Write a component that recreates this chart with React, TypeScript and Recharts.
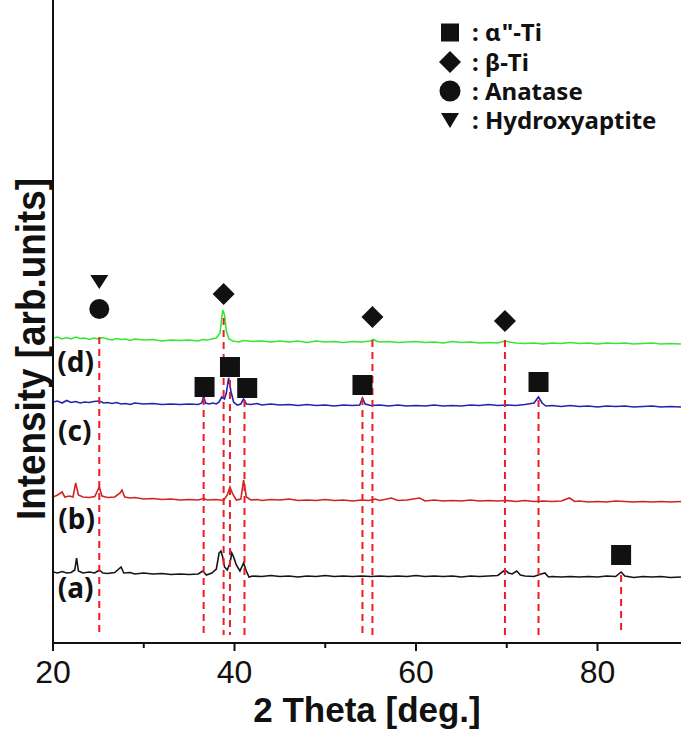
import {
  ComposedChart,
  Line,
  Scatter,
  XAxis,
  YAxis,
  ReferenceLine,
  ReferenceDot,
  Legend,
} from "recharts";

// 2θ (deg) vs intensity (arb. units, already stacked with offsets)
const traceA: [number, number][] = [
  [20, 71], [20.5, 70], [21, 71.5], [21.5, 70], [22, 70.5], [22.4, 73], [22.6, 85], [22.8, 72],
  [23.3, 70], [24, 71], [24.6, 70], [25.1, 73], [25.5, 70], [26, 69.5], [26.8, 70.5], [27.5, 76],
  [27.8, 70], [28.5, 70.5], [29, 69], [30, 70], [31, 69], [32, 69.5], [33, 68.5], [34, 69],
  [35, 68.5], [36, 69], [36.5, 72], [36.9, 68], [37.5, 70], [38.0, 74], [38.3, 90], [38.5, 92],
  [38.7, 86], [38.9, 76], [39.2, 73], [39.5, 80], [39.7, 90], [39.9, 86], [40.2, 78], [40.6, 72],
  [41.0, 80], [41.3, 72], [41.6, 66], [42, 67], [43, 66.5], [44, 67.5], [45, 66.5], [46, 67],
  [47, 66], [48, 67], [49, 66.5], [50, 67.5], [51, 66.5], [52, 67], [53, 66.5], [54, 67],
  [55, 66.5], [56, 67], [57, 66.5], [58, 67], [59, 66.5], [60, 67.5], [61, 66.5], [62, 67],
  [63, 66.5], [64, 67], [65, 66], [66, 67], [67, 66.5], [68, 67], [69, 67.5], [69.8, 73],
  [70.2, 70], [70.6, 69], [71.1, 72], [71.5, 68], [72, 67], [73, 66.5], [73.8, 69], [74.2, 70],
  [74.6, 66], [75, 66.5], [76, 66], [77, 66.5], [78, 66], [79, 66.5], [80, 66], [81, 67],
  [82, 66.5], [82.6, 71], [83, 67], [84, 65.5], [85, 66.5], [86, 66], [87, 66.5], [88, 65.5],
  [89.2, 66],
];

const traceB: [number, number][] = [
  [20, 146], [20.5, 148], [21, 151], [21.3, 146], [21.8, 147], [22.2, 146], [22.5, 160], [22.8, 148],
  [23.3, 146], [24, 145.5], [24.6, 146.5], [25.1, 156], [25.4, 147], [26, 145.5], [26.8, 146],
  [27.4, 150], [27.6, 153], [27.9, 146], [28.5, 145], [29, 145.5], [30, 144], [31, 144.5],
  [32, 143.5], [33, 144], [34, 143], [35, 143.5], [36, 143], [36.6, 144.5], [37, 143], [38, 143.5],
  [38.8, 142.5], [39.2, 148], [39.5, 156], [39.8, 149], [40.2, 143], [40.7, 144], [41.0, 163],
  [41.3, 146], [41.8, 143], [42.5, 143.5], [43, 142.5], [44, 143.5], [45, 143], [46, 144],
  [47, 142.5], [48, 143], [49, 142.5], [50, 143.5], [51, 142.5], [52, 143], [53, 142], [54, 143],
  [54.8, 142.5], [55.5, 144], [56, 142.5], [57.3, 145], [58, 142.5], [59, 143], [60.4, 145],
  [61, 142], [62, 143], [63, 142], [64, 142.5], [65, 142], [66, 143], [67, 142], [68, 142.5],
  [69, 142], [70, 142.5], [71, 141.5], [72, 142.5], [73, 141.5], [74, 142], [75, 141.5], [76, 142],
  [76.9, 145], [77.5, 141.5], [78, 142], [79, 141], [80, 141.5], [81, 141], [82, 142], [83, 141.5],
  [84, 141], [85, 141.5], [86, 141], [87, 141.5], [88, 141], [89.2, 141.5],
];

const traceC: [number, number][] = [
  [20, 241], [20.5, 242], [21, 240], [21.5, 242.5], [22, 240.5], [22.5, 241.5], [23, 240], [23.5, 241],
  [24, 240.5], [24.5, 241.5], [25.1, 242], [25.6, 240], [26, 240.5], [26.5, 239.5], [27, 240.5],
  [27.5, 239], [28, 239.5], [28.5, 238.5], [29, 240], [30, 239], [31, 239.5], [32, 238.5], [33, 239],
  [34, 238.5], [35, 239], [36, 238.5], [36.4, 240], [36.6, 247], [36.8, 240], [37.2, 239], [37.6, 240],
  [38.0, 239], [38.3, 241], [38.6, 246], [38.9, 244], [39.1, 250], [39.35, 265], [39.6, 252],
  [39.9, 241], [40.3, 238], [40.7, 239], [41.0, 244], [41.3, 239], [41.8, 238.5], [42.5, 239.5],
  [43, 238], [44, 239], [45, 238], [46, 238.5], [47, 237.5], [48, 238.5], [49, 237.5], [50, 238],
  [51, 237], [52, 238], [53, 237.5], [53.8, 238], [54.1, 245], [54.4, 239], [55, 237.5], [56, 238],
  [57, 237], [58, 238], [59, 237], [60, 237.5], [61, 237], [62, 238], [63, 237], [64, 237.5],
  [65, 237], [66, 238], [67, 237.5], [68, 238.5], [69, 237.5], [70, 238], [71, 237.5], [72, 238.5],
  [73, 240], [73.5, 246], [73.9, 240], [74.3, 237], [75, 237.5], [76, 236.5], [77, 237.5],
  [78, 236.5], [79, 237], [80, 236], [81, 237], [82, 236.5], [83, 237], [84, 236], [85, 236.5],
  [86, 237], [87, 236], [88, 236.5], [89.2, 236],
];

const traceD: [number, number][] = [
  [20, 305], [20.5, 306], [21, 304], [21.5, 305.5], [22, 304], [22.5, 306], [23, 304.5], [23.5, 305],
  [24, 303.5], [24.5, 305], [25, 304], [25.5, 305.5], [26, 304], [26.5, 303], [27, 304.5],
  [27.5, 303.5], [28, 304], [28.5, 302.5], [29, 304], [30, 303], [31, 303.5], [32, 302], [33, 303],
  [34, 302.5], [35, 303], [36, 302], [36.5, 303.5], [37, 303], [37.5, 304], [38, 305], [38.4, 310],
  [38.7, 333], [38.9, 328], [39.1, 312], [39.4, 304], [39.8, 302], [40.5, 301], [41, 302.5],
  [42, 301.5], [43, 302], [44, 301], [45, 302], [46, 301], [47, 302], [48, 300.5], [49, 302],
  [50, 301], [51, 301.5], [52, 300.5], [53, 301.5], [54, 301], [55, 302], [55.3, 303.5], [55.6, 302],
  [56, 301], [57, 301.5], [58, 300.5], [59, 301], [60, 301.5], [61, 300.5], [62, 301], [63, 300],
  [64, 301.5], [65, 300.5], [66, 301], [67, 300], [68, 300.5], [69, 300], [69.8, 302], [70.3, 301],
  [71, 300], [72, 299.5], [73, 300], [74, 299], [75, 300], [76, 299.5], [77, 300.5], [78, 299.5],
  [79, 300], [80, 299], [81, 300], [82, 299.5], [83, 300], [84, 299], [85, 299.5], [86, 300],
  [87, 299], [88, 299.5], [89.2, 299],
];

// peak markers
const alphaTi: [number, number][] = [[36.7, 256], [39.5, 276], [41.4, 255], [54.1, 258], [73.5, 261], [82.6, 88]];
const betaTi: [number, number][] = [[38.8, 349], [55.2, 326], [69.8, 322]];
const anatase: [number, number][] = [[25.1, 334]];
const hydroxy: [number, number][] = [[25.1, 361]];

// dashed guide lines: [2θ, top intensity]
const guides: [number, number][] = [
  [25.1, 306], [36.6, 245], [38.8, 325], [39.5, 263], [41.1, 243],
  [54.1, 245], [55.2, 303], [69.8, 303], [73.5, 243], [82.6, 68],
];

const sampleLabels: [string, number, number][] = [
  ["(a)", 22.5, 55],
  ["(b)", 22.6, 124],
  ["(c)", 22.4, 212],
  ["(d)", 22.5, 281],
];

const xTicks = [20, 30, 40, 50, 60, 70, 80];

const FONT = "'Liberation Sans', Arial, sans-serif";
const LEG_FONT = "'Noto Sans', 'Open Sans', sans-serif";
const INK = "#111";

const pts = (arr: [number, number][]) => arr.map(([x, y]) => ({ x, y }));

const SquareShape = (p: any) => (
  <rect x={p.cx - 10} y={p.cy - 10} width={20} height={20} fill={INK} />
);
const DiamondShape = (p: any) => (
  <polygon
    points={`${p.cx},${p.cy - 11} ${p.cx + 11},${p.cy} ${p.cx},${p.cy + 11} ${p.cx - 11},${p.cy}`}
    fill={INK}
  />
);
const CircleShape = (p: any) => <circle cx={p.cx} cy={p.cy} r={10} fill={INK} />;
const TriShape = (p: any) => (
  <polygon
    points={`${p.cx - 9},${p.cy - 7} ${p.cx + 9},${p.cy - 7} ${p.cx},${p.cy + 7}`}
    fill={INK}
  />
);

const legendLabels = ["α\"-Ti", "β-Ti", "Anatase", "Hydroxyaptite"];
const legendRows = [32.5, 62, 91, 120];

const legendSymbol = (i: number, cx: number, cy: number) => {
  if (i === 0) return <rect x={cx - 9} y={cy - 9} width={18} height={18} fill={INK} />;
  if (i === 1)
    return <polygon points={`${cx},${cy - 11} ${cx + 11},${cy} ${cx},${cy + 11} ${cx - 11},${cy}`} fill={INK} />;
  if (i === 2) return <circle cx={cx} cy={cy} r={10.5} fill={INK} />;
  return <polygon points={`${cx - 9},${cy - 7} ${cx + 9},${cy - 7} ${cx},${cy + 8}`} fill={INK} />;
};

const LegendBox = () => (
  <svg width={261} height={140} style={{ display: "block" }}>
    {legendLabels.map((label, i) => (
      <g key={label}>
        {legendSymbol(i, 30, legendRows[i])}
        <text
          x={52}
          y={legendRows[i] + 8.5}
          fontSize={24}
          fontWeight={700}
          fontFamily={LEG_FONT}
          fill={INK}
        >
          : {label}
        </text>
      </g>
    ))}
  </svg>
);

const XTick = (props: any) => {
  const { x, y, payload } = props;
  const major = payload.value % 20 === 0;
  return (
    <g>
      <line x1={x} x2={x} y1={y} y2={y + (major ? 8 : 5)} stroke={INK} strokeWidth={2} />
      {major && (
        <text x={x} y={y + 40} textAnchor="middle" fontSize={32} fontFamily={FONT} fill={INK}>
          {payload.value}
        </text>
      )}
    </g>
  );
};

const XTitle = (props: any) => {
  const { viewBox } = props;
  return (
    <text
      x={viewBox.x + viewBox.width / 2}
      y={viewBox.y + 79}
      textAnchor="middle"
      fontSize={35}
      fontWeight={700}
      fontFamily={FONT}
      fill={INK}
    >
      2 Theta [deg.]
    </text>
  );
};

const YTitle = (props: any) => {
  const { viewBox } = props;
  const cx = viewBox.x + 45;
  const cy = viewBox.y + 349;
  return (
    <text
      x={cx}
      y={cy}
      transform={`rotate(-90, ${cx}, ${cy})`}
      textAnchor="middle"
      fontSize={40}
      fontWeight={700}
      fontFamily={FONT}
      textLength={342}
      lengthAdjust="spacingAndGlyphs"
      fill={INK}
    >
      Intensity [arb.units]
    </text>
  );
};

export default function App() {
  return (
    <div style={{ position: "absolute", left: 0, top: 0, background: "#fff" }}>
      <ComposedChart
        width={681}
        height={729}
        margin={{ top: 0, right: 0, bottom: 0, left: 0 }}
      >
        <XAxis
          dataKey="x"
          type="number"
          domain={[20, 89.2]}
          allowDataOverflow
          ticks={xTicks}
          tick={<XTick />}
          tickLine={false}
          tickSize={0}
          tickMargin={0}
          height={86}
          axisLine={{ stroke: INK, strokeWidth: 2 }}
          label={{ content: XTitle }}
        />
        <YAxis
          dataKey="y"
          type="number"
          domain={[0, 643]}
          allowDataOverflow
          width={53}
          tick={false}
          tickLine={false}
          axisLine={{ stroke: INK, strokeWidth: 2 }}
          label={{ content: YTitle }}
        />
        <Legend
          layout="vertical"
          align="center"
          verticalAlign="middle"
          content={<LegendBox />}
          wrapperStyle={{ top: 0, left: 420, width: 261, height: 140, margin: 0, padding: 0 }}
        />
        <Line data={pts(traceA)} dataKey="y" stroke="#151515" strokeWidth={1.6} dot={false} isAnimationActive={false} legendType="none" />
        <Line data={pts(traceB)} dataKey="y" stroke="#d02424" strokeWidth={1.6} dot={false} isAnimationActive={false} legendType="none" />
        <Line data={pts(traceC)} dataKey="y" stroke="#2323b0" strokeWidth={1.6} dot={false} isAnimationActive={false} legendType="none" />
        <Line data={pts(traceD)} dataKey="y" stroke="#35e635" strokeWidth={1.6} dot={false} isAnimationActive={false} legendType="none" />
        {guides.map(([x, top]) => (
          <ReferenceLine
            key={x}
            segment={[{ x, y: top }, { x, y: 8 }]}
            stroke="#ee1c25"
            strokeWidth={2}
            strokeDasharray="7 5"
          />
        ))}
        <Scatter data={pts(alphaTi)} dataKey="y" shape={SquareShape} isAnimationActive={false} legendType="none" />
        <Scatter data={pts(betaTi)} dataKey="y" shape={DiamondShape} isAnimationActive={false} legendType="none" />
        <Scatter data={pts(anatase)} dataKey="y" shape={CircleShape} isAnimationActive={false} legendType="none" />
        <Scatter data={pts(hydroxy)} dataKey="y" shape={TriShape} isAnimationActive={false} legendType="none" />
        {sampleLabels.map(([t, x, y]) => (
          <ReferenceDot
            key={t}
            x={x}
            y={y}
            r={0}
            fill="none"
            stroke="none"
            label={{
              value: t,
              position: "center",
              fontSize: 28,
              fontWeight: 700,
              fontFamily: LEG_FONT,
              fill: INK,
            }}
          />
        ))}
      </ComposedChart>
    </div>
  );
}
